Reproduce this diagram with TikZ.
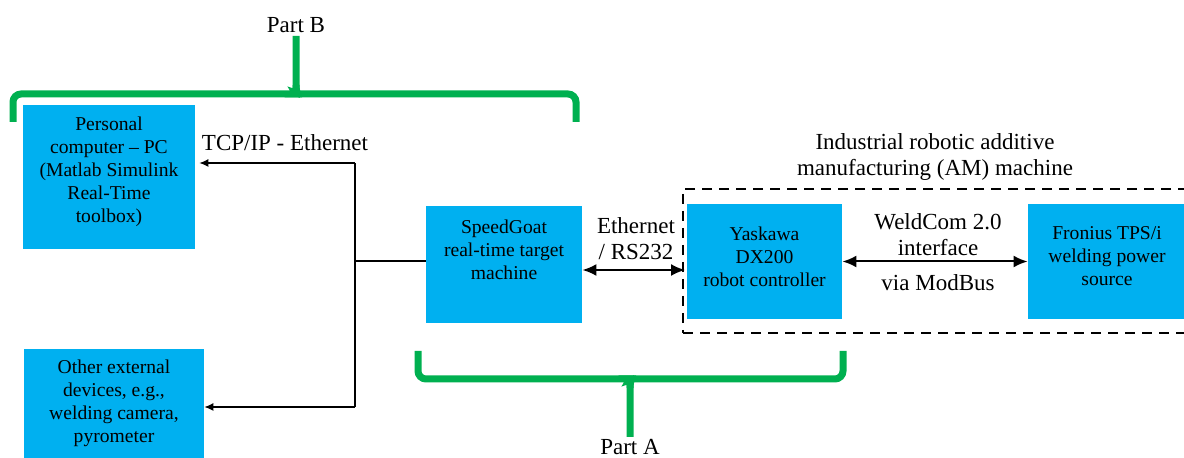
\documentclass[tikz,border=0pt]{standalone}
\usepackage{fontspec}
\setmainfont{Liberation Serif}
\usetikzlibrary{arrows.meta,calc}
\definecolor{boxblue}{HTML}{00B0F0}
\definecolor{bracegreen}{HTML}{00B050}
\begin{document}
\begin{tikzpicture}[x=0.5pt,y=-0.5pt,
  box/.style={rectangle, fill=boxblue, draw=none, inner sep=0pt},
  boxtext/.style={align=center, inner sep=0pt, font=\fontsize{9.8pt}{11.5pt}\selectfont},
  lbl/.style={align=center, inner sep=0pt, font=\fontsize{11.5pt}{13pt}\selectfont},
  conn/.style={line width=0.6pt},
  arr/.style={conn, -{Latex[length=4.5pt,width=4pt]}},
  dbl/.style={line width=1pt, {Latex[length=7pt,width=6pt]}-{Latex[length=7pt,width=6pt]}},
  dashbox/.style={draw, line width=1pt, dash pattern=on 5pt off 3.5pt},
  brace/.style={draw=bracegreen, line width=3.5pt, rounded corners=4pt}]
\useasboundingbox (0,0) rectangle (1184,458);

% boxes
\node[box, minimum width=86pt, minimum height=72pt] (pc) at (109,177) {};
\node[box, minimum width=90pt, minimum height=55pt] (oth) at (114,404) {};
\node[box, minimum width=78pt, minimum height=58.5pt] (sg) at (504,264.5) {};
\node[dashbox, minimum width=256pt, minimum height=72pt, inner sep=0pt] (am) at (939,261) {};
\node[box, minimum width=77.5pt, minimum height=57.5pt] (yask) at (764.5,261.5) {};
\node[box, minimum width=79pt, minimum height=57.5pt] (fro) at (1107,261.5) {};

% box texts
\node[boxtext] (pct) at (109,172) {Personal\\computer – PC\\(Matlab Simulink\\Real-Time\\toolbox)};
\node[boxtext] (otht) at (114,403) {Other external\\devices, e.g.,\\welding camera,\\pyrometer};
\node[boxtext] (sgt) at (504,250) {SpeedGoat\\real-time target\\machine};
\node[boxtext] (yaskt) at (764.5,257) {Yaskawa\\DX200\\robot controller};
\node[boxtext] (frot) at (1107,256) {Fronius TPS/i\\welding power\\source};

% labels
\node[lbl] (amt) at (935,157.5) {Industrial robotic additive\\manufacturing (AM) machine};
\node[lbl] (tcp) at (285,143) {TCP/IP - Ethernet};
\node[lbl] (eth) at (636,238.5) {Ethernet\\/ RS232};
\node[lbl] (weld) at (938,235) {WeldCom 2.0\\interface};
\node[lbl] (modbus) at (938,283) {via ModBus};
\node[lbl] (partb) at (296,25) {Part B};
\node[lbl] (parta) at (630,447) {Part A};

% connectors
\coordinate (jt) at (355,163);
\coordinate (jb) at (355,407);
\draw[conn] ([yshift=1.75pt]sg.west) -- ([yshift=1.75pt]sg.west -| jt);
\draw[conn] (jt) -- (jb);
\draw[arr, shorten >=2pt] (jt) -- (jt -| pc.east);
\draw[arr] (jb) -- (jb -| oth.east);
\draw[dbl, shorten >=-1.5pt] ([yshift=-2.75pt]sg.east) -- ([yshift=-2.75pt]sg.east -| am.west);
\draw[dbl] (yask.east) -- (fro.west);

% braces
\draw[brace] (13,122) -- (13,94) -- (288,94) .. controls (294,94) and (296,91) .. (296,85) -- (296,36);
\draw[brace] (576,122) -- (576,94) -- (304,94) .. controls (298,94) and (296,91) .. (296,85);
\draw[brace] (418,351) -- (418,379) -- (622,379) .. controls (628,379) and (630,382) .. (630,388) -- (630,437);
\draw[brace] (843,351) -- (843,379) -- (638,379) .. controls (632,379) and (630,382) .. (630,388);
\end{tikzpicture}
\end{document}
